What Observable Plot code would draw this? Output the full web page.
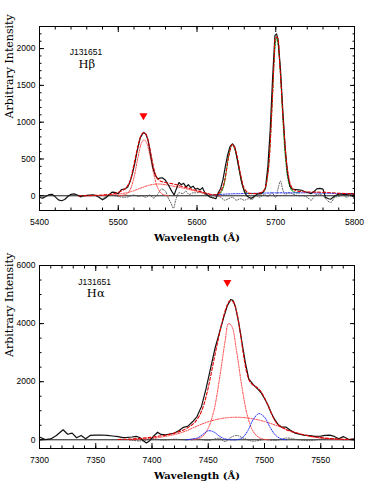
<!DOCTYPE html>
<html><head><meta charset="utf-8">
<script src="https://cdn.jsdelivr.net/npm/d3@7"></script>
<script src="https://cdn.jsdelivr.net/npm/@observablehq/plot@0.6"></script>
<style>body{margin:0;background:#fff;} #chart{width:374px;} #chart svg{display:block;}</style>
</head><body><div id="chart"></div>
<script>
// ---------- Top panel (H beta) ----------
const hbObs = [[5400,-23],[5404,-32],[5408,-10],[5412,15],[5416,20],[5420,-15],[5424,-55],[5428,-68],[5432,-50],[5436,-10],[5440,20],[5444,25],[5448,10],[5452,-14],[5456,0],[5460,5],[5464,10],[5468,14],[5472,0],[5476,-23],[5480,-55],[5484,-30],[5488,10],[5492,50],[5496,45],[5500,30],[5504,85],[5508,90],[5512,120],[5515,190],[5518,300],[5521,440],[5524,610],[5528,790],[5532,860],[5535,840],[5538,750],[5541,560],[5544,380],[5547,280],[5550,230],[5553,240],[5556,245],[5560,210],[5564,140],[5568,60],[5571,10],[5574,100],[5577,180],[5580,150],[5583,170],[5586,120],[5589,150],[5592,110],[5595,130],[5598,90],[5601,100],[5604,80],[5607,110],[5610,40],[5613,10],[5617,-20],[5621,-30],[5624,-40],[5627,40],[5630,100],[5633,220],[5636,400],[5639,560],[5642,670],[5645,705],[5648,660],[5651,500],[5654,330],[5657,170],[5660,60],[5663,0],[5666,-20],[5669,-35],[5672,-15],[5675,10],[5678,30],[5681,25],[5684,50],[5687,110],[5690,400],[5693,900],[5696,1600],[5699,2180],[5701,2200],[5703,2120],[5706,1720],[5709,1150],[5712,650],[5715,300],[5718,130],[5721,90],[5725,85],[5729,80],[5733,75],[5737,55],[5741,45],[5745,30],[5749,60],[5752,95],[5756,100],[5760,90],[5763,-20],[5767,-40],[5770,-45],[5774,-10],[5778,15],[5782,25],[5786,20],[5790,15],[5794,25],[5798,30],[5800,-40]];
const hbFit = [[5450,0],[5470,5],[5485,15],[5495,30],[5505,70],[5510,110],[5515,200],[5519,380],[5523,580],[5527,760],[5530,840],[5533,860],[5536,820],[5539,700],[5542,540],[5545,380],[5548,270],[5552,210],[5556,190],[5560,180],[5570,160],[5580,130],[5590,100],[5600,70],[5610,40],[5620,15],[5625,15],[5630,60],[5635,200],[5640,520],[5645,700],[5650,580],[5655,310],[5660,100],[5665,40],[5670,30],[5680,40],[5685,70],[5690,300],[5695,1150],[5698,1850],[5700,2150],[5702,2150],[5705,1800],[5710,950],[5715,350],[5720,120],[5725,70],[5735,55],[5750,50],[5765,45],[5780,35],[5800,25]];
const hbNarrow = [[5500,0],[5510,20],[5515,80],[5520,250],[5525,520],[5530,730],[5533,760],[5536,720],[5540,560],[5545,300],[5550,110],[5555,30],[5560,5],[5565,0]];
const hbBroad = [[5460,0],[5470,3],[5490,12],[5510,40],[5520,70],[5530,110],[5540,145],[5550,160],[5560,150],[5570,130],[5580,110],[5590,85],[5600,58],[5610,30],[5620,10],[5630,0]];
const hbOIII = [[5620,10],[5628,20],[5633,100],[5637,320],[5641,580],[5645,700],[5649,600],[5653,380],[5657,170],[5661,60],[5665,30],[5670,30],[5680,35],[5685,60],[5689,220],[5693,750],[5696,1400],[5699,2000],[5701,2150],[5703,2050],[5706,1650],[5709,1050],[5712,550],[5716,200],[5720,80],[5725,45],[5730,40]];
const hbFe = [[5620,10],[5640,25],[5660,30],[5680,35],[5700,40],[5720,40],[5740,40],[5760,35],[5780,30],[5800,25]];
const hbResid = [[5480,-40],[5490,10],[5500,-10],[5510,-20],[5520,10],[5525,-10],[5530,0],[5535,-20],[5540,10],[5545,-30],[5550,20],[5555,90],[5560,60],[5563,-20],[5567,-100],[5570,-170],[5573,-60],[5577,40],[5582,30],[5586,60],[5590,20],[5595,40],[5600,40],[5605,50],[5610,20],[5615,30],[5620,-30],[5625,0],[5630,-20],[5635,-60],[5640,-40],[5645,-20],[5650,-60],[5655,-40],[5660,-60],[5665,-40],[5670,-50],[5675,0],[5680,-20],[5685,20],[5690,-10],[5695,40],[5700,-20],[5703,100],[5706,200],[5709,80],[5712,20],[5716,40],[5720,30],[5725,10],[5730,0],[5735,0],[5740,-20],[5745,-60],[5750,10],[5755,20],[5760,0],[5765,-60],[5770,-90],[5775,-20],[5780,-10],[5785,10],[5790,-20],[5795,10],[5800,-50]];
const hbMarker = [[5532,1090]];
const hbLabels = [{x:5459,y:1950,t:"J131651",serif:false},{x:5460,y:1790,t:"Hβ",serif:true}];
const hbXTicks = [5400,5500,5600,5700,5800];
const hbYTicks = [0,500,1000,1500,2000];

// ---------- Bottom panel (H alpha) ----------
const haObs = [[7300,97],[7305,6],[7310,30],[7315,149],[7321,345],[7325,190],[7329,230],[7333,69],[7337,149],[7341,34],[7345,149],[7350,160],[7355,165],[7360,150],[7365,130],[7370,110],[7374,75],[7378,80],[7382,95],[7386,115],[7389,80],[7392,-23],[7395,-110],[7398,-30],[7402,149],[7405,260],[7408,185],[7412,172],[7416,200],[7420,230],[7424,320],[7428,430],[7432,470],[7436,620],[7440,800],[7444,1150],[7448,1750],[7452,2450],[7456,3150],[7460,3700],[7464,4250],[7467,4620],[7470,4830],[7472,4800],[7474,4600],[7477,4050],[7480,3350],[7483,2650],[7486,2100],[7490,1900],[7494,1750],[7497,1620],[7500,1420],[7503,1200],[7506,920],[7509,700],[7512,530],[7515,440],[7519,437],[7523,330],[7527,230],[7531,190],[7535,160],[7540,140],[7545,115],[7550,125],[7554,150],[7558,160],[7562,115],[7566,34],[7570,110],[7575,10],[7580,34]];
const haFit = [[7370,10],[7380,25],[7390,50],[7400,90],[7410,150],[7420,230],[7428,340],[7434,470],[7438,600],[7442,820],[7446,1200],[7450,1800],[7454,2550],[7458,3300],[7462,4000],[7466,4550],[7469,4780],[7472,4760],[7475,4450],[7478,3800],[7481,3000],[7484,2350],[7487,2000],[7490,1880],[7494,1780],[7497,1650],[7500,1450],[7503,1200],[7506,920],[7509,680],[7512,520],[7516,420],[7520,340],[7526,260],[7532,200],[7540,130],[7550,75],[7560,40],[7570,20],[7580,10]];
const haNarrow = [[7435,0],[7440,30],[7445,120],[7450,400],[7455,1000],[7460,2100],[7465,3400],[7468,4000],[7471,3900],[7475,3100],[7480,1800],[7485,800],[7490,280],[7495,80],[7500,15],[7505,0]];
const haBroad = [[7380,0],[7400,50],[7420,180],[7430,300],[7440,470],[7450,620],[7460,720],[7470,770],[7480,770],[7490,720],[7500,630],[7510,500],[7520,350],[7530,220],[7540,120],[7550,60],[7560,25],[7575,5]];
const haNII = [[7430,0],[7440,60],[7445,180],[7450,310],[7455,270],[7460,120],[7465,30],[7470,0],[7475,0],[7480,60],[7485,300],[7490,700],[7495,900],[7500,780],[7505,430],[7510,150],[7515,30],[7520,0]];
const haResid = [[7380,0],[7390,-40],[7400,30],[7410,-10],[7420,20],[7430,0],[7440,30],[7450,-20],[7460,50],[7465,-60],[7470,80],[7475,150],[7480,80],[7485,0],[7490,-50],[7495,-20],[7500,10],[7510,-20],[7520,60],[7530,0],[7540,-30],[7550,20],[7560,40],[7570,0],[7580,20]];
const haMarker = [[7467,5420]];
const haLabels = [{x:7349,y:5440,t:"J131651",serif:false},{x:7350,y:5040,t:"Hα",serif:true}];
const haXTicks = [7300,7350,7400,7450,7500,7550];
const haYTicks = [0,2000,4000,6000];

const xTitle = "Wavelength (Å)";
const yTitle = "Arbitrary Intensity";

function line(data, opts) {
  return Plot.line(data, {x: d => d[0], y: d => d[1], curve: "catmull-rom", clip: true, ...opts});
}

function panel(cfg) {
  return Plot.plot({
    width: 374, height: cfg.height,
    marginTop: cfg.marginTop, marginBottom: cfg.marginBottom, marginLeft: 39, marginRight: 20,
    style: {fontFamily: "'Liberation Sans', Arial, sans-serif", fontSize: "8.5px", background: "white", color: "black"},
    x: {domain: cfg.xDomain},
    y: {domain: cfg.yDomain},
    marks: [
      Plot.ruleY([0], {stroke: "#000", strokeWidth: 0.9}),
      line(cfg.resid, {stroke: "#444", strokeWidth: 0.9, strokeDasharray: "1,1.6"}),
      ...cfg.comps.map(c => line(c, {stroke: "#ff4040", strokeWidth: 1, strokeDasharray: "1.3,1.3"})),
      ...(cfg.green ? [line(cfg.green, {stroke: "#1fa51f", strokeWidth: 1.1, strokeDasharray: "1.5,1.3"})] : []),
      line(cfg.blue, {stroke: "#2030ff", strokeWidth: 1, strokeDasharray: "1.3,1.3"}),
      line(cfg.obs, {stroke: "#111", strokeWidth: 1.2, curve: "linear"}),
      line(cfg.fit, {stroke: "#e00000", strokeWidth: 1.1, strokeDasharray: "3,2"}),
      Plot.dot(cfg.marker, {x: d => d[0], y: d => d[1], symbol: "triangle", r: 3, fill: "red", rotate: 180}),
      Plot.text(cfg.labels.filter(d => !d.serif), {x: "x", y: "y", text: "t", fontSize: 8.5}),
      Plot.text(cfg.labels.filter(d => d.serif), {x: "x", y: "y", text: "t", fontSize: 11.5, fontFamily: "'DejaVu Serif', serif"}),
      Plot.frame({stroke: "black", strokeWidth: 1}),
      Plot.axisX({anchor: "bottom", ticks: cfg.xTicks, tickSize: -5, tickPadding: 13, tickFormat: "d", label: null}),
      Plot.axisX({anchor: "bottom", ticks: cfg.xMinor, tickSize: -2.5, text: null, label: null}),
      Plot.axisX({anchor: "top", ticks: cfg.xTicks, tickSize: -5, text: null, label: null}),
      Plot.axisX({anchor: "top", ticks: cfg.xMinor, tickSize: -2.5, text: null, label: null}),
      Plot.axisY({anchor: "left", ticks: cfg.yTicks, tickSize: -5, tickPadding: 9, tickFormat: "d", label: null}),
      Plot.axisY({anchor: "left", ticks: cfg.yMinor, tickSize: -2.5, text: null, label: null}),
      Plot.axisY({anchor: "right", ticks: cfg.yTicks, tickSize: -5, text: null, label: null}),
      Plot.axisY({anchor: "right", ticks: cfg.yMinor, tickSize: -2.5, text: null, label: null}),
      Plot.text([xTitle], {frameAnchor: "bottom", dy: 30, fontSize: 10, fontWeight: "bold", fontFamily: "'DejaVu Serif', serif", text: d => d}),
      Plot.text([yTitle], {frameAnchor: "left", dx: -30, rotate: -90, fontSize: 11, fontFamily: "'DejaVu Serif', serif", text: d => d})
    ]
  });
}

const topPanel = panel({
  height: 250, marginTop: 26, marginBottom: 40,
  xDomain: [5400, 5800], yDomain: [-200, 2300],
  xTicks: hbXTicks, xMinor: d3.range(5400, 5801, 20),
  yTicks: hbYTicks, yMinor: d3.range(-200, 2301, 100),
  obs: hbObs, fit: hbFit, comps: [hbNarrow, hbBroad], green: hbOIII, blue: hbFe, resid: hbResid,
  marker: hbMarker, labels: hbLabels
});
const bottomPanel = panel({
  height: 248, marginTop: 15, marginBottom: 50,
  xDomain: [7300, 7580], yDomain: [-300, 6000],
  xTicks: haXTicks, xMinor: d3.range(7300, 7581, 10),
  yTicks: haYTicks, yMinor: d3.range(0, 6001, 500),
  obs: haObs, fit: haFit, comps: [haNarrow, haBroad], green: null, blue: haNII, resid: haResid,
  marker: haMarker, labels: haLabels
});
document.getElementById("chart").append(topPanel, bottomPanel);
</script></body></html>
